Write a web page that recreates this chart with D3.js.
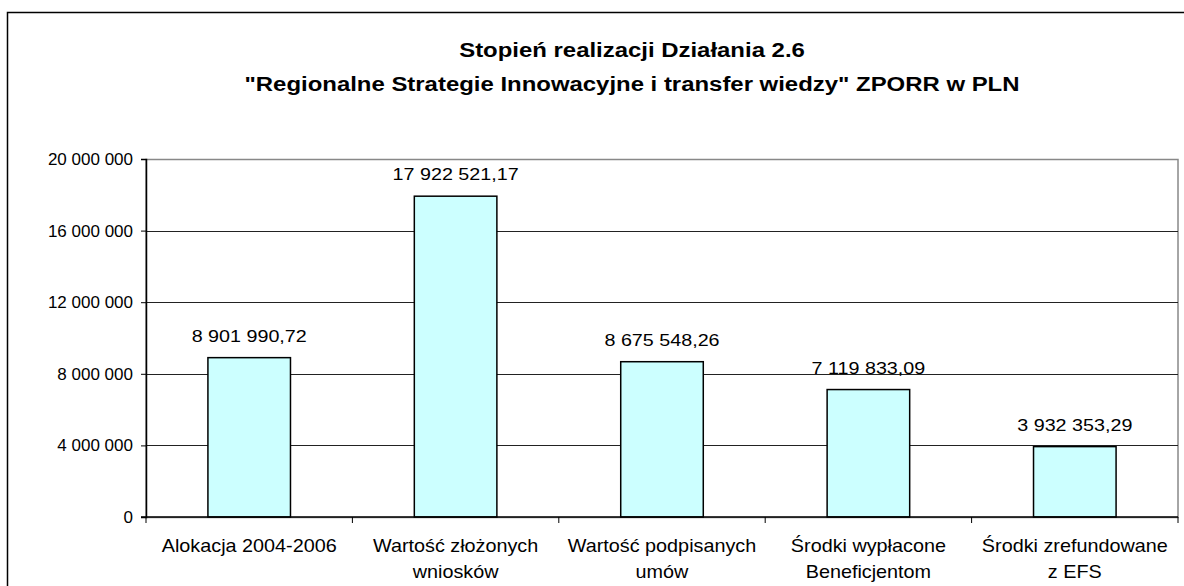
<!DOCTYPE html>
<html>
<head>
<meta charset="utf-8">
<script src="https://cdn.jsdelivr.net/npm/d3@7"></script>
<style>
  body { margin: 0; background: #fff; }
  svg { display: block; font-family: Arial, "Liberation Sans", sans-serif; }
</style>
</head>
<body>
<svg id="chart" width="1184" height="586"></svg>
<script>
const categories = [
  "Alokacja 2004-2006",
  "Wartość złożonych\nwniosków",
  "Wartość podpisanych\numów",
  "Środki wypłacone\nBeneficjentom",
  "Środki zrefundowane\nz EFS"
];
const values = [8901990.72, 17922521.17, 8675548.26, 7119833.09, 3932353.29];
const yTicks = [0, 4000000, 8000000, 12000000, 16000000, 20000000];
const titleLines = [
  "Stopień realizacji Działania 2.6",
  "\"Regionalne Strategie Innowacyjne i transfer wiedzy\" ZPORR w PLN"
];

const width = 1184, height = 586;
const margin = { top: 159, right: 6, bottom: 69, left: 146 };
const plotW = width - margin.left - margin.right;
const plotH = height - margin.top - margin.bottom;

// the source picture is a bit stretched sideways, so text gets a horizontal scale
const titleStretch = 1.14, labelStretch = 1.1, valueStretch = 1.16;

const pl = d3.formatLocale({ decimal: ",", thousands: " ", grouping: [3], currency: ["", ""] });
const fmtTick = pl.format(",d");
const fmtVal = pl.format(",.2f");

const svg = d3.select("#chart");

// outer chart frame (only top and left edges visible in the crop)
svg.append("rect")
  .attr("x", 7.5).attr("y", 12.5)
  .attr("width", width + 20).attr("height", height + 20)
  .attr("fill", "none")
  .attr("stroke", "#000")
  .attr("stroke-width", 1.5);

// title
svg.append("g")
  .selectAll("text")
  .data(titleLines)
  .join("text")
  .attr("transform", (d, i) => `translate(632,${57 + i * 34}) scale(${titleStretch},1)`)
  .attr("text-anchor", "middle")
  .attr("font-size", 21)
  .attr("font-weight", "bold")
  .attr("fill", "#000")
  .text(d => d);

const g = svg.append("g").attr("transform", `translate(${margin.left},${margin.top})`);

const y = d3.scaleLinear().domain([0, 20000000]).range([plotH, 0]);
const xCat = d3.scaleBand().domain(categories).range([0, plotW]).padding(0);
const x = d3.scaleBand().domain(categories).range([0, plotW])
  .paddingInner(0.6).paddingOuter(0.3);

// plot area border (gray)
g.append("rect")
  .attr("x", 0).attr("y", 0.5)
  .attr("width", plotW).attr("height", plotH)
  .attr("fill", "none")
  .attr("stroke", "#888")
  .attr("stroke-width", 1.5);

// gridlines
g.append("g")
  .selectAll("line")
  .data(yTicks.filter(t => t > 0 && t < 20000000))
  .join("line")
  .attr("x1", 0).attr("x2", plotW)
  .attr("y1", d => Math.round(y(d)) + 0.5)
  .attr("y2", d => Math.round(y(d)) + 0.5)
  .attr("stroke", "#222")
  .attr("stroke-width", 1);

// bars
g.append("g")
  .selectAll("rect")
  .data(values)
  .join("rect")
  .attr("x", (d, i) => x(categories[i]))
  .attr("y", d => y(d))
  .attr("width", x.bandwidth())
  .attr("height", d => plotH - y(d))
  .attr("fill", "#ccffff")
  .attr("stroke", "#000")
  .attr("stroke-width", 1.5);

// value labels
g.append("g")
  .selectAll("text")
  .data(values)
  .join("text")
  .attr("transform", (d, i) =>
    `translate(${x(categories[i]) + x.bandwidth() / 2},${y(d) - 16}) scale(${valueStretch},1)`)
  .attr("text-anchor", "middle")
  .attr("font-size", 17)
  .attr("fill", "#000")
  .text(d => fmtVal(d));

// y axis
const yAxis = g.append("g")
  .call(d3.axisLeft(y).tickValues(yTicks).tickFormat(fmtTick).tickSize(5).tickPadding(8));
yAxis.select(".domain").attr("stroke", "#000").attr("stroke-width", 1.5);
yAxis.selectAll(".tick line").attr("stroke", "#000");
yAxis.selectAll(".tick text")
  .attr("font-size", 17)
  .attr("font-family", "Arial, 'Liberation Sans', sans-serif")
  .attr("fill", "#000");

// x axis line + category boundary ticks
const xAxis = g.append("g").attr("transform", `translate(0,${plotH})`);
xAxis.append("line")
  .attr("x1", -5).attr("x2", plotW)
  .attr("stroke", "#000").attr("stroke-width", 1.5);
xAxis.selectAll("line.tk")
  .data(categories.map(c => xCat(c)).concat([plotW]))
  .join("line")
  .attr("class", "tk")
  .attr("x1", d => d).attr("x2", d => d)
  .attr("y1", 0).attr("y2", 6)
  .attr("stroke", "#000").attr("stroke-width", 1);

// category labels
xAxis.selectAll("text.cat")
  .data(categories)
  .join("text")
  .attr("class", "cat")
  .attr("transform", d => `translate(${xCat(d) + xCat.bandwidth() / 2},0) scale(${labelStretch},1)`)
  .attr("text-anchor", "middle")
  .attr("font-size", 18)
  .attr("fill", "#000")
  .each(function (d) {
    const t = d3.select(this);
    d.split("\n").forEach((line, i) => {
      t.append("tspan")
        .attr("x", 0)
        .attr("y", 35 + i * 26)
        .text(line);
    });
  });
</script>
</body>
</html>
